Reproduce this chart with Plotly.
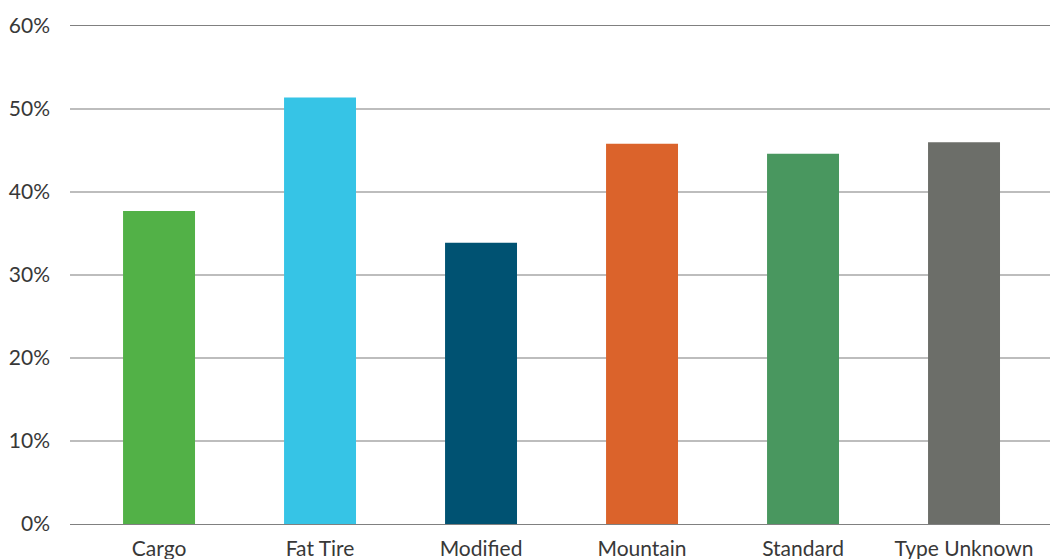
import plotly.graph_objects as go

categories = ["Cargo", "Fat Tire", "Modified", "Mountain", "Standard", "Type Unknown"]
values = [37.7, 51.4, 33.9, 45.8, 44.6, 46.0]
colors = ["#52B147", "#36C4E6", "#005272", "#DB632B", "#49975F", "#6C6E69"]
y_ticks = [0, 10, 20, 30, 40, 50, 60]
y_tick_labels = ["0%", "10%", "20%", "30%", "40%", "50%", "60%"]

fig = go.Figure(
    go.Bar(x=categories, y=values, marker=dict(color=colors, line=dict(width=0)), width=0.447)
)

fig.update_layout(
    width=1050, height=559,
    margin=dict(l=70, r=0, t=26, b=35),
    plot_bgcolor="white", paper_bgcolor="white",
    font=dict(family="Lato", size=21, color="#383838"),
    showlegend=False,
    bargap=0.55,
)
fig.update_xaxes(
    range=[-0.553, 5.534], automargin=False,
    showline=True, mirror=True, linecolor="#808080", linewidth=1,
    ticks="", showgrid=False, ticklabelstandoff=6,
)
fig.update_yaxes(
    range=[0, 60], tickvals=y_ticks, ticktext=y_tick_labels, automargin=False,
    showgrid=True, gridcolor="#BDBDBD", gridwidth=2,
    zeroline=False, showline=False, ticks="", ticklabelstandoff=19,
)

fig.write_html(
    "out.html",
    config={"displayModeBar": False},
    post_script="document.body.style.margin='0';document.body.style.overflow='hidden';",
)
